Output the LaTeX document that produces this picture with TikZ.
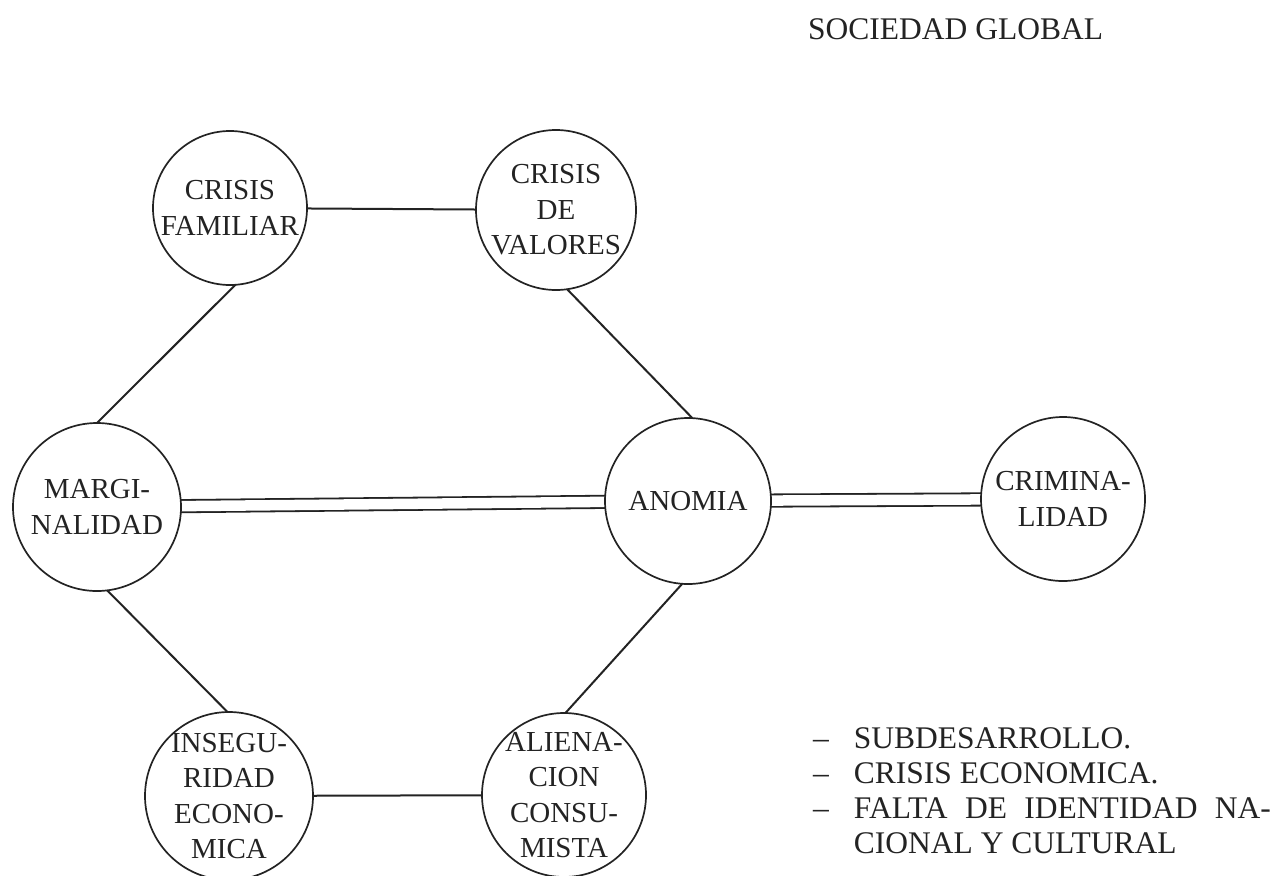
\documentclass[tikz,border=0pt]{standalone}
\usepackage{fontspec}
\setmainfont{Liberation Serif}
\usetikzlibrary{backgrounds}
\definecolor{ink}{RGB}{35,35,35}
\begin{document}
\begin{tikzpicture}[x=1pt,y=-1pt,
  bubble/.style={circle,draw=ink,line width=1.7pt,inner sep=0pt,outer sep=0pt,minimum size=#1},
  lbl/.style={align=center,text=ink,inner sep=0pt,font=\fontsize{29}{35.5}\selectfont},
  link/.style={draw=ink,line width=2pt},
  dlink/.style={draw=ink,line width=1.8pt,double=white,double distance=10.5pt},
  big/.style={text=ink,inner sep=0pt,font=\fontsize{31.5}{35}\selectfont}]
\useasboundingbox (0,0) rectangle (1281,875);

\node[big,anchor=base west] (title) at (808,40) {SOCIEDAD GLOBAL};

\node[bubble=154pt,label={[lbl]center:CRISIS\\FAMILIAR}] (fam) at (230,208) {};
\node[bubble=160pt,label={[lbl]center:CRISIS\\DE\\VALORES}] (val) at (556,210) {};
\node[bubble=168pt,label={[lbl]center:MARGI-\\NALIDAD}] (marg) at (97,507) {};
\node[bubble=166pt,label={[lbl]center:ANOMIA}] (anom) at (688,501) {};
\node[bubble=164pt,label={[lbl]center:CRIMINA-\\LIDAD}] (crim) at (1063,499) {};
\node[bubble=168pt,label={[lbl]center:INSEGU-\\RIDAD\\ECONO-\\MICA}] (inseg) at (229,796) {};
\node[bubble=164pt,label={[lbl]center:ALIENA-\\CION\\CONSU-\\MISTA}] (alien) at (564,795) {};

\begin{pgfonlayer}{background}
\draw[link] (fam) -- (val);
\draw[link] (marg.90) -- (fam.-86);
\draw[link] (val.-82) -- (anom.87);
\draw[dlink] (marg) -- (anom);
\draw[dlink] (anom) -- (crim);
\draw[link] (marg.-83) -- (inseg.91);
\draw[link] (anom.-94) -- (alien.89);
\draw[link] (inseg) -- (alien);
\end{pgfonlayer}

\node[big,anchor=base west] (list) at (813,748) {%
\begin{tabular}[t]{@{}l@{\hspace{25pt}}l@{}}
--&SUBDESARROLLO.\\
--&CRISIS ECONOMICA.\\
--&\makebox[417pt][s]{FALTA DE IDENTIDAD NA-}\\
&CIONAL Y CULTURAL
\end{tabular}};
\end{tikzpicture}
\end{document}
